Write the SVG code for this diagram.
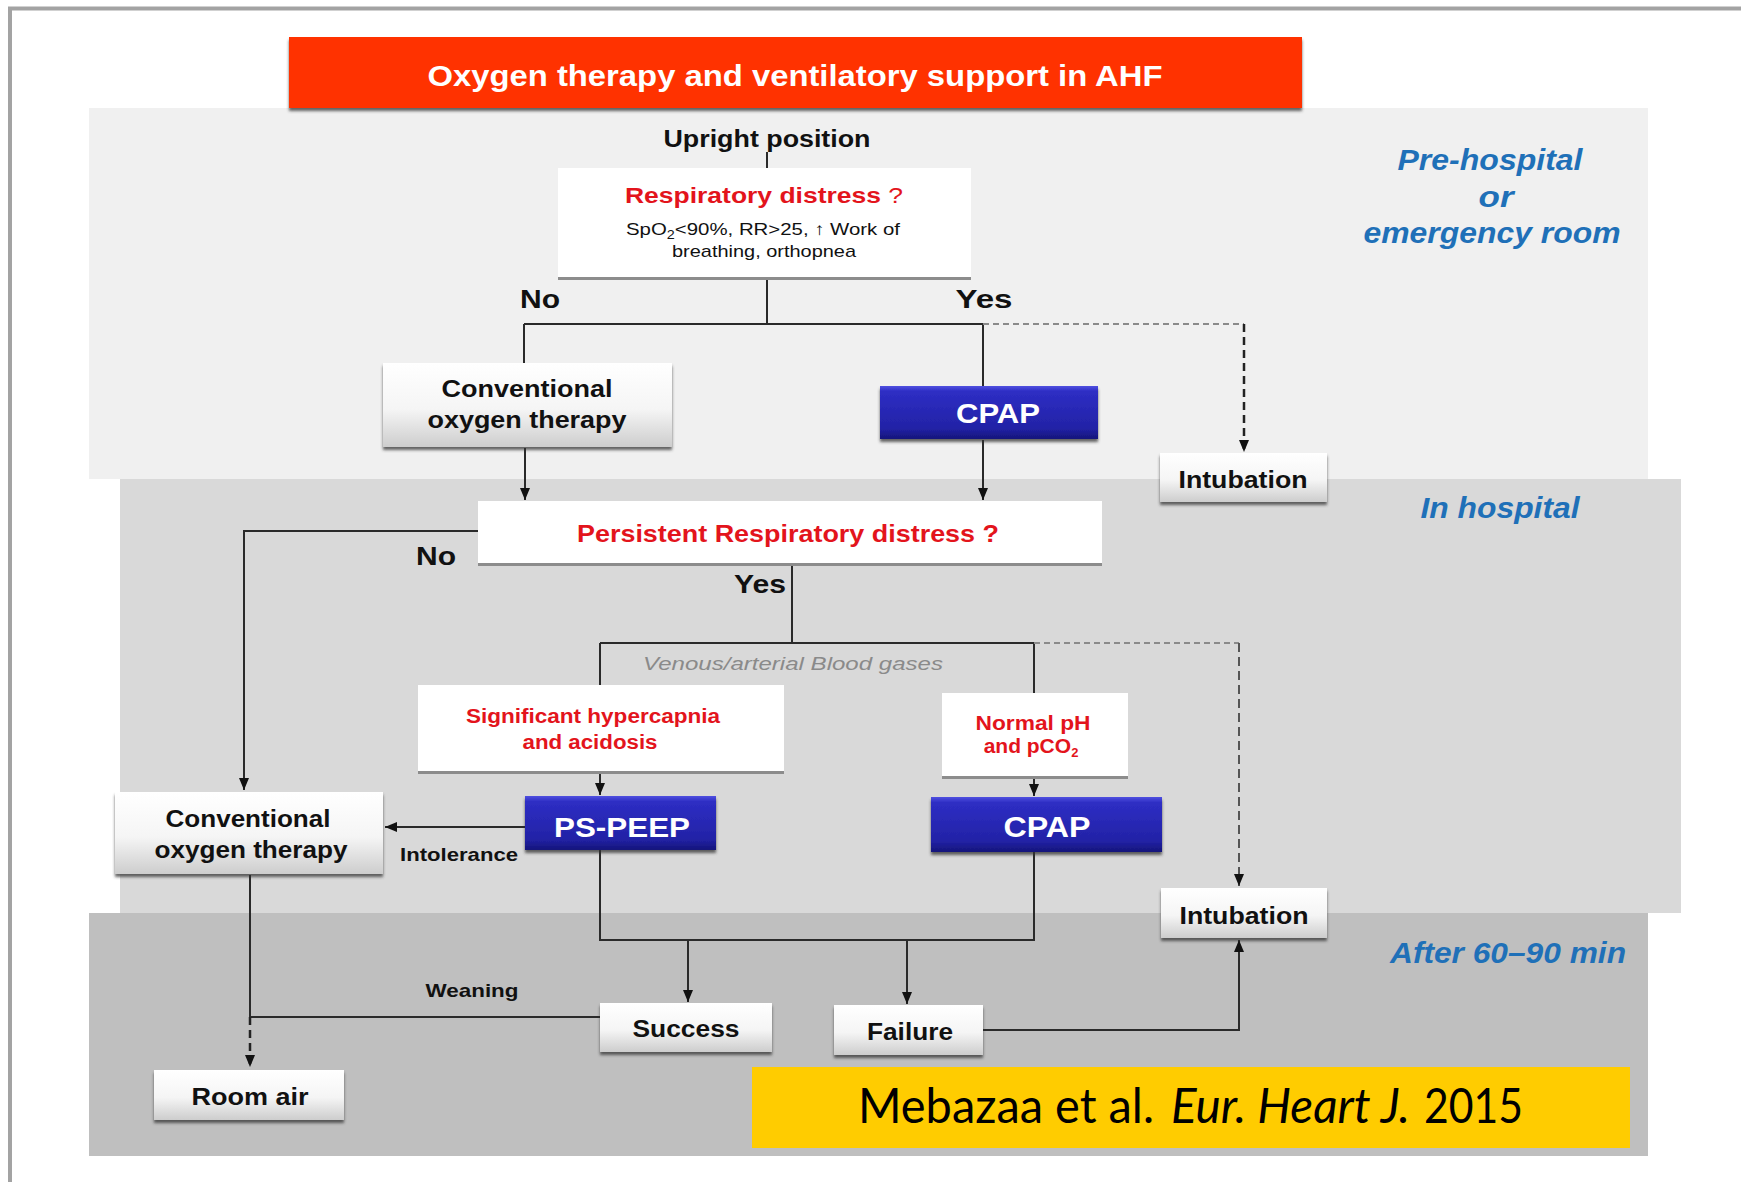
<svg xmlns="http://www.w3.org/2000/svg" width="1741" height="1182" viewBox="0 0 1741 1182">
<defs>
<style>
text{font-family:"Liberation Sans",Arial,sans-serif;}
.lbl{font-weight:bold;fill:#111;text-anchor:middle;}
.red{fill:#e3141c;font-weight:bold;text-anchor:middle;}
.zone{fill:#1f70b8;font-weight:bold;font-style:italic;text-anchor:middle;}
.wt{fill:#fff;font-weight:bold;text-anchor:middle;}
.cit{font-family:Lato,"Open Sans",sans-serif;font-size:48px;fill:#000;}
.ln{fill:none;stroke:#2a2a2a;stroke-width:2;}
.arr{marker-end:url(#ah);}
.dash{fill:none;stroke:#8a8a8a;stroke-width:2;stroke-dasharray:6 4;}
.dashk{fill:none;stroke:#222;stroke-width:2.5;stroke-dasharray:8 5;}
.dashm{fill:none;stroke:#555;stroke-width:2;stroke-dasharray:9 5;}
.bev{fill:url(#gBev);filter:url(#sh);}
.blue{fill:url(#gBlue);filter:url(#sh);}
.wbox{fill:#fff;}
.wsh{stroke:#8c8c8c;stroke-width:3;}
</style>
<linearGradient id="gBev" x1="0" y1="0" x2="0" y2="1">
<stop offset="0" stop-color="#ffffff"/>
<stop offset="0.55" stop-color="#f5f5f5"/>
<stop offset="1" stop-color="#cdcdcd"/>
</linearGradient>
<linearGradient id="gBlue" x1="0" y1="0" x2="0" y2="1">
<stop offset="0" stop-color="#5050e0"/>
<stop offset="0.1" stop-color="#2e2ec4"/>
<stop offset="0.8" stop-color="#2222a6"/>
<stop offset="1" stop-color="#15157a"/>
</linearGradient>
<filter id="sh" x="-10%" y="-20%" width="120%" height="160%">
<feDropShadow dx="0" dy="3" stdDeviation="1.6" flood-color="#333" flood-opacity="0.75"/>
</filter>
<marker id="ah" markerWidth="12" markerHeight="10" refX="12" refY="5" orient="auto" markerUnits="userSpaceOnUse" viewBox="0 0 12 10">
<path d="M0,0 L12,5 L0,10 z" fill="#111"/>
</marker>
</defs>

<rect width="1741" height="1182" fill="#ffffff"/>
<path d="M10,1182 V8.5 H1741" fill="none" stroke="#a3a3a3" stroke-width="4"/>

<g id="zones">
<rect x="89" y="108" width="1559" height="371" fill="#f0f0f0"/>
<rect x="120" y="479" width="1561" height="434" fill="#d9d9d9"/>
<rect x="89" y="913" width="1559" height="243" fill="#bfbfbf"/>
<text class="zone" x="1490" y="170" font-size="29" textLength="185" lengthAdjust="spacingAndGlyphs">Pre-hospital</text>
<text class="zone" x="1496" y="207" font-size="29" textLength="35" lengthAdjust="spacingAndGlyphs">or</text>
<text class="zone" x="1492" y="243" font-size="29" textLength="257" lengthAdjust="spacingAndGlyphs">emergency room</text>
<text class="zone" x="1500" y="518" font-size="29" textLength="159" lengthAdjust="spacingAndGlyphs">In hospital</text>
<text class="zone" x="1508" y="963" font-size="29" textLength="236" lengthAdjust="spacingAndGlyphs">After 60–90 min</text>
</g>

<g id="title">
<rect x="289" y="37" width="1013" height="71" fill="#ff3300" filter="url(#sh)"/>
<text class="wt" x="795" y="86" font-size="29" textLength="735" lengthAdjust="spacingAndGlyphs">Oxygen therapy and ventilatory support in AHF</text>
</g>

<g id="connectors">
<path class="ln" d="M767,152 V168"/>
<path class="ln" d="M767,280 V324 M524,324 H983 M524,324 V363 M983,324 V386"/>
<path class="dash" d="M983,324 H1244"/>
<path class="dashk arr" d="M1244,324 V452"/>
<path class="ln arr" d="M525,448 V500"/>
<path class="ln arr" d="M983,440 V500"/>
<path class="ln arr" d="M478,531 H244 V790"/>
<path class="ln" d="M792,566 V643 M600,643 H1034 M600,643 V685 M1034,643 V693"/>
<path class="dash" d="M1034,643 H1239"/>
<path class="dashm arr" d="M1239,643 V886"/>
<path class="ln arr" d="M600,774 V795"/>
<path class="ln arr" d="M1034,779 V796"/>
<path class="ln arr" d="M525,827 H385"/>
<path class="ln" d="M250,875 V1017 H600"/>
<path class="dashk arr" d="M250,1017 V1067"/>
<path class="ln" d="M600,850 V940 H1034 V852"/>
<path class="ln arr" d="M688,940 V1002"/>
<path class="ln arr" d="M907,940 V1004"/>
<path class="ln arr" d="M983,1030 H1239 V940"/>
</g>

<g id="upright">
<text class="lbl" x="767" y="147" font-size="23" textLength="207" lengthAdjust="spacingAndGlyphs">Upright position</text>
</g>

<g id="resp-distress">
<rect class="wbox" x="558" y="168" width="413" height="110"/>
<line class="wsh" x1="558" y1="278.5" x2="971" y2="278.5"/>
<text class="red" x="764" y="203" font-size="22" textLength="278" lengthAdjust="spacingAndGlyphs">Respiratory distress <tspan font-weight="normal">?</tspan></text>
<text x="763" y="235" font-size="17" fill="#111" text-anchor="middle" textLength="274" lengthAdjust="spacingAndGlyphs">SpO<tspan font-size="12" dy="4">2</tspan><tspan dy="-4">&lt;90%, RR&gt;25, ↑ Work of</tspan></text>
<text x="764" y="257" font-size="17" fill="#111" text-anchor="middle" textLength="184" lengthAdjust="spacingAndGlyphs">breathing, orthopnea</text>
</g>

<g id="labels-top">
<text class="lbl" x="540" y="308" font-size="25" textLength="40" lengthAdjust="spacingAndGlyphs">No</text>
<text class="lbl" x="984" y="308" font-size="25" textLength="57" lengthAdjust="spacingAndGlyphs">Yes</text>
</g>

<g id="conv1">
<rect class="bev" x="383" y="363" width="289" height="84"/>
<text class="lbl" x="527" y="397" font-size="23" textLength="171" lengthAdjust="spacingAndGlyphs">Conventional</text>
<text class="lbl" x="527" y="428" font-size="23" textLength="199" lengthAdjust="spacingAndGlyphs">oxygen therapy</text>
</g>

<g id="cpap1">
<rect class="blue" x="880" y="386" width="218" height="53"/>
<text class="wt" x="998" y="423" font-size="28" textLength="84" lengthAdjust="spacingAndGlyphs">CPAP</text>
</g>

<g id="intubation1">
<rect class="bev" x="1160" y="453" width="167" height="49"/>
<text class="lbl" x="1243" y="488" font-size="23" textLength="129" lengthAdjust="spacingAndGlyphs">Intubation</text>
</g>

<g id="persistent">
<rect class="wbox" x="478" y="501" width="624" height="63"/>
<line class="wsh" x1="478" y1="564.5" x2="1102" y2="564.5"/>
<text class="red" x="788" y="542" font-size="24" textLength="422" lengthAdjust="spacingAndGlyphs">Persistent Respiratory distress ?</text>
</g>

<g id="labels-mid">
<text class="lbl" x="436" y="565" font-size="25" textLength="40" lengthAdjust="spacingAndGlyphs">No</text>
<text class="lbl" x="760" y="593" font-size="25" textLength="52" lengthAdjust="spacingAndGlyphs">Yes</text>
<text x="793" y="670" font-size="19" fill="#8a8a8a" font-style="italic" text-anchor="middle" textLength="300" lengthAdjust="spacingAndGlyphs">Venous/arterial Blood gases</text>
<text class="lbl" x="459" y="861" font-size="19" textLength="118" lengthAdjust="spacingAndGlyphs">Intolerance</text>
<text class="lbl" x="472" y="997" font-size="19" textLength="93" lengthAdjust="spacingAndGlyphs">Weaning</text>
</g>

<g id="hypercapnia">
<rect class="wbox" x="418" y="685" width="366" height="87"/>
<line class="wsh" x1="418" y1="772.5" x2="784" y2="772.5"/>
<text class="red" x="593" y="723" font-size="20" textLength="254" lengthAdjust="spacingAndGlyphs">Significant hypercapnia</text>
<text class="red" x="590" y="749" font-size="20" textLength="135" lengthAdjust="spacingAndGlyphs">and acidosis</text>
</g>

<g id="normal-ph">
<rect class="wbox" x="942" y="693" width="186" height="84"/>
<line class="wsh" x1="942" y1="777.5" x2="1128" y2="777.5"/>
<text class="red" x="1033" y="730" font-size="21" textLength="115" lengthAdjust="spacingAndGlyphs">Normal pH</text>
<text class="red" x="1031" y="753" font-size="21">and pCO<tspan font-size="13" dy="4">2</tspan></text>
</g>

<g id="ps-peep">
<rect class="blue" x="525" y="796" width="191" height="54"/>
<text class="wt" x="622" y="837" font-size="28" textLength="136" lengthAdjust="spacingAndGlyphs">PS-PEEP</text>
</g>

<g id="cpap2">
<rect class="blue" x="931" y="797" width="231" height="55"/>
<text class="wt" x="1047" y="837" font-size="29" textLength="87" lengthAdjust="spacingAndGlyphs">CPAP</text>
</g>

<g id="conv2">
<rect class="bev" x="115" y="792" width="268" height="82"/>
<text class="lbl" x="248" y="827" font-size="23" textLength="165" lengthAdjust="spacingAndGlyphs">Conventional</text>
<text class="lbl" x="251" y="858" font-size="23" textLength="193" lengthAdjust="spacingAndGlyphs">oxygen therapy</text>
</g>

<g id="intubation2">
<rect class="bev" x="1161" y="888" width="166" height="50"/>
<text class="lbl" x="1244" y="924" font-size="23" textLength="129" lengthAdjust="spacingAndGlyphs">Intubation</text>
</g>

<g id="success">
<rect class="bev" x="600" y="1003" width="172" height="49"/>
<text class="lbl" x="686" y="1037" font-size="23" textLength="107" lengthAdjust="spacingAndGlyphs">Success</text>
</g>

<g id="failure">
<rect class="bev" x="834" y="1005" width="149" height="50"/>
<text class="lbl" x="910" y="1040" font-size="23" textLength="86" lengthAdjust="spacingAndGlyphs">Failure</text>
</g>

<g id="room-air">
<rect class="bev" x="154" y="1070" width="190" height="50"/>
<text class="lbl" x="250" y="1105" font-size="23" textLength="117" lengthAdjust="spacingAndGlyphs">Room air</text>
</g>

<g id="citation">
<rect x="752" y="1067" width="878" height="81" fill="#ffcc00"/>
<text class="cit" x="858" y="1123" textLength="296" lengthAdjust="spacingAndGlyphs">Mebazaa et al.</text>
<text class="cit" x="1171" y="1123" font-style="italic" textLength="239" lengthAdjust="spacingAndGlyphs">Eur. Heart J.</text>
<text class="cit" x="1424" y="1123" textLength="99" lengthAdjust="spacingAndGlyphs">2015</text>
</g>
</svg>
